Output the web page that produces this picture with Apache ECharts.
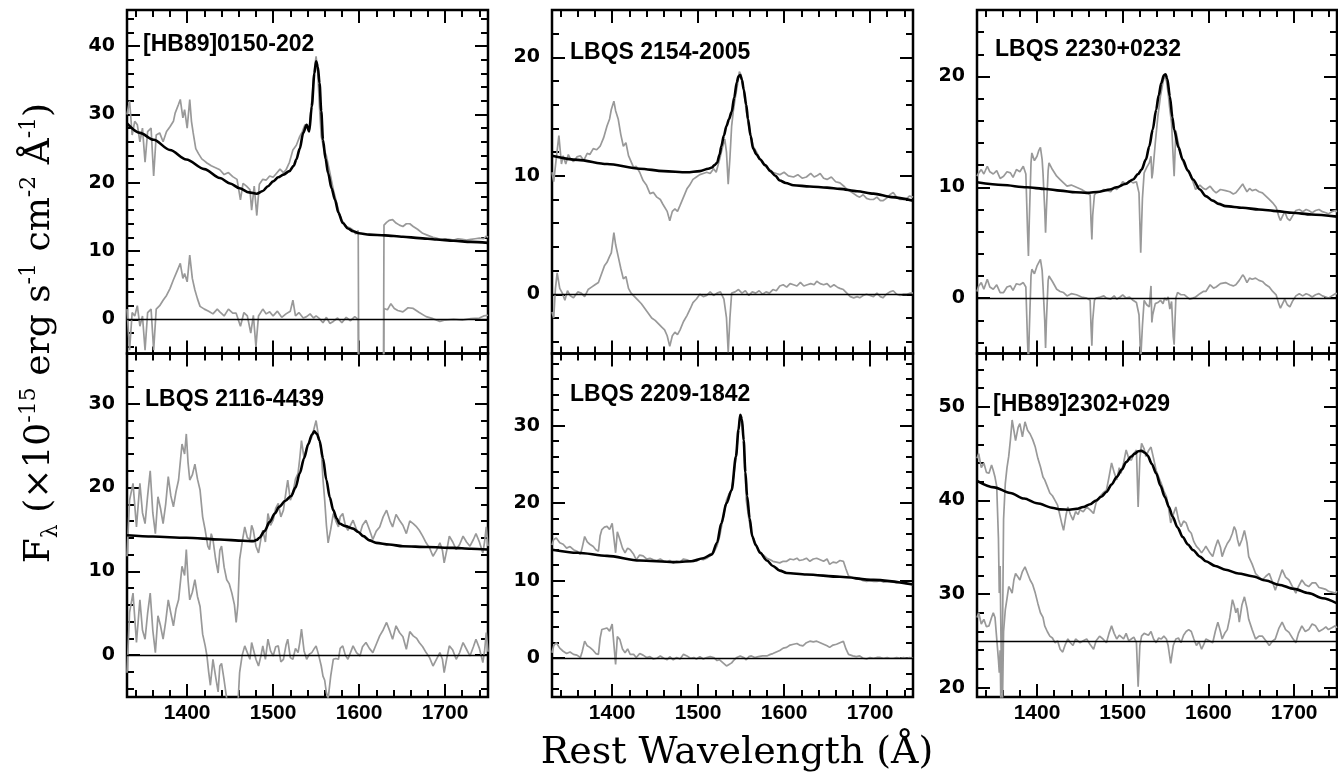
<!DOCTYPE html>
<html><head><meta charset="utf-8">
<script src="https://cdn.jsdelivr.net/npm/echarts@6/dist/echarts.min.js"></script>
<style>html,body{margin:0;padding:0;background:#fff}#c{width:1338px;height:780px}</style>
</head><body><div id="c"></div>
<script>
// ---------- data ----------
const names = ['[HB89]0150-202','LBQS 2154-2005','LBQS 2230+0232','LBQS 2116-4439','LBQS 2209-1842','[HB89]2302+029'];
const xTitle = 'Rest Wavelength (Å)';
const xMajor = [1400,1500,1600,1700];
const xMinor = [1340,1360,1380,1400,1420,1440,1460,1480,1500,1520,1540,1560,1580,1600,1620,1640,1660,1680,1700,1720,1740];
const yMajor1 = [0,10,20,30,40];
const yMajor2 = [0,10,20];
const yMajor3 = [0,10,20];
const yMajor4 = [0,10,20,30];
const yMajor5 = [0,10,20,30];
const yMajor6 = [20,30,40,50];

const spec1 = [[1330,30],[1333,32],[1336,27],[1339,29],[1342,28.5],[1345,26],[1348,28],[1351,23],[1354,27.5],[1358,28],[1361,21],[1364,27],[1368,27.3],[1372,26],[1376,27.5],[1380,28.2],[1384,29],[1386,30.2],[1390,31.5],[1392,32.2],[1395,29.5],[1397,30.7],[1400,28],[1403,32.2],[1405,29],[1407,27.3],[1410,25],[1413,24.3],[1417,23.5],[1420,23.2],[1423,22.9],[1428,22.5],[1433,22.2],[1438,21.9],[1443,21.2],[1448,21.5],[1453,20.9],[1458,20.5],[1462,17.5],[1465,19.9],[1469,19.5],[1473,19],[1475,16],[1478,19.5],[1481,15.2],[1484,19.8],[1488,20.5],[1492,20.4],[1496,21],[1500,20.8],[1504,21.4],[1508,22],[1512,21.5],[1515,21.9],[1519,23],[1523,24.8],[1527,25.5],[1531,26.8],[1534,27.5],[1537,28.5],[1540,28.2],[1542,27.8],[1545,32],[1548,36.5],[1550,38.5],[1552,36],[1554,31],[1556,26.8],[1559,25],[1562,23.9],[1566,21.5],[1570,19],[1574,17],[1577,15.5],[1580,14.5],[1585,13.6],[1589,13.4],[1593,13.1],[1596,12.5],[1599,13],[1600,-20],[1628,-20],[1629,13.8],[1632,14.2],[1635,14.5],[1639,14.6],[1643,14.1],[1647,13.8],[1651,13.6],[1655,14],[1659,14],[1663,13.6],[1668,13.2],[1674,12.6],[1680,12.3],[1686,12],[1690,11.9],[1695,11.7],[1700,11.8],[1705,11.7],[1710,11.6],[1715,11.8],[1720,11.7],[1725,11.6],[1730,11.7],[1735,11.8],[1740,11.9],[1745,11.8],[1748,12.2],[1750,12.0]];
const fit1 = [[1330,28.7],[1345,27.3],[1361,26.3],[1380,24.8],[1399,23.4],[1420,22],[1438,20.7],[1450,19.9],[1461,19.2],[1472,18.6],[1481,18.4],[1488,18.8],[1494,19.5],[1500,20.2],[1506,20.8],[1512,21.2],[1519,21.7],[1524,22.5],[1527,23.4],[1531,25],[1535,27.3],[1539,28.5],[1542,27.5],[1545,31.2],[1548,36],[1550,37.8],[1552,37],[1554,34.6],[1556,30.5],[1558,26.3],[1561,23.5],[1564,21.4],[1568,19.2],[1572,17.5],[1576,15.6],[1581,14.1],[1587,13.3],[1593,12.9],[1600,12.6],[1612,12.4],[1630,12.3],[1651,12.1],[1670,11.9],[1690,11.7],[1710,11.5],[1730,11.35],[1750,11.2]];
const res1 = [[1330,1.5],[1333,-4.5],[1336,1],[1339,0.5],[1342,2],[1345,-1],[1348,0.5],[1351,-4.5],[1354,1],[1358,1.5],[1361,-4.5],[1364,1.5],[1368,2],[1372,2.8],[1376,3.5],[1380,4.5],[1384,5.8],[1388,7],[1392,8.2],[1395,6],[1397,6.7],[1400,5.5],[1403,9.4],[1406,6],[1409,4.3],[1412,3],[1415,1.9],[1420,1.5],[1425,1.2],[1430,0.8],[1435,1.5],[1438,1.1],[1443,0.5],[1448,1.5],[1453,0.9],[1457,0.9],[1462,-1],[1466,1],[1470,0.5],[1474,-2],[1477,0.6],[1480,-4],[1483,0.5],[1488,1.5],[1492,0.8],[1496,1.1],[1500,0.5],[1505,1.2],[1510,0.3],[1515,0.8],[1520,1.2],[1523,2.8],[1526,0.5],[1530,1],[1535,0.2],[1539,0.4],[1543,0.8],[1547,0.2],[1550,0.5],[1554,0.1],[1558,-0.5],[1562,0.3],[1566,-0.6],[1570,-0.3],[1575,0.2],[1580,-0.5],[1585,0.3],[1590,-0.2],[1595,0.4],[1599,0],[1600,-30],[1628,-30],[1629,1.6],[1633,1.4],[1637,2.3],[1641,1.6],[1645,1.3],[1651,1.1],[1657,1.7],[1663,1.6],[1670,1.0],[1678,0.4],[1686,0.1],[1694,-0.3],[1700,-0.1],[1710,0],[1720,-0.1],[1730,0.1],[1740,0.2],[1745,0.5],[1750,0.6]];

const spec2 = [[1330,10.3],[1332,9.5],[1335,11.5],[1338,13.4],[1341,11.0],[1343,11.7],[1346,11.0],[1349,11.8],[1351,11.5],[1355,11.2],[1359,11.6],[1363,11.7],[1367,11.3],[1371,11.9],[1374,11.8],[1378,12.3],[1382,12.2],[1386,12.5],[1390,13.2],[1394,14.2],[1397,14.8],[1399,15.6],[1402,16.3],[1404,15.5],[1407,14.8],[1410,13.5],[1413,12.5],[1416,12.8],[1419,11.7],[1422,11.2],[1425,10.7],[1428,10.8],[1432,10.3],[1436,9.6],[1440,9.2],[1444,8.5],[1448,8.6],[1452,8.2],[1456,8.0],[1459,7.6],[1461,7.5],[1464,7.0],[1467,6.2],[1470,7.0],[1473,7.2],[1476,7.0],[1479,7.5],[1483,8.2],[1487,8.9],[1490,9.2],[1494,9.7],[1498,9.9],[1502,10.1],[1506,10.2],[1510,10.3],[1514,10.2],[1518,10.6],[1521,10.3],[1525,11.4],[1528,12.3],[1531,13.1],[1533,12.0],[1535,9.3],[1537,11.5],[1539,14.2],[1541,15.5],[1543,16.5],[1546,17.8],[1548,18.8],[1550,18.5],[1553,17.3],[1556,15.5],[1558,14.5],[1561,13.5],[1564,12.5],[1568,12.0],[1572,11.4],[1576,11.0],[1580,10.7],[1584,10.5],[1587,10.3],[1591,10.2],[1595,10.1],[1600,10.3],[1605,10.0],[1611,9.9],[1616,10.1],[1621,9.8],[1626,9.9],[1631,10.2],[1635,9.9],[1638,10.0],[1642,10.2],[1646,9.8],[1650,9.7],[1655,9.9],[1660,9.5],[1665,9.4],[1670,9.1],[1674,8.8],[1677,8.7],[1681,8.5],[1685,8.3],[1688,8.2],[1692,8.4],[1696,8.1],[1700,8.0],[1704,8.0],[1708,8.2],[1712,7.9],[1715,7.9],[1719,8.1],[1723,8.4],[1727,8.6],[1731,8.2],[1735,8.0],[1739,8.0],[1743,8.1],[1746,8.3],[1750,8.2]];
const fit2 = [[1330,11.7],[1360,11.35],[1394,11.0],[1432,10.6],[1460,10.4],[1487,10.3],[1502,10.4],[1512,10.6],[1516,10.7],[1519,10.9],[1522,11.1],[1525,11.8],[1527,12.5],[1530,13.4],[1533,14.2],[1536,14.8],[1539,15.4],[1542,16.6],[1545,17.9],[1547,18.4],[1549,18.5],[1551,18.1],[1553,17.3],[1556,16.0],[1558,14.8],[1561,13.4],[1564,12.3],[1568,11.8],[1572,11.4],[1578,10.9],[1584,10.4],[1590,10.0],[1595,9.6],[1602,9.4],[1611,9.2],[1630,9.1],[1650,9.0],[1665,8.9],[1685,8.7],[1704,8.5],[1725,8.2],[1750,7.9]];
const res2 = [[1330,-1.5],[1332,-2.0],[1334,0.5],[1336,1.8],[1339,0.5],[1342,0.1],[1345,-0.5],[1348,0.3],[1351,-0.1],[1355,-0.3],[1360,0.2],[1364,0.1],[1368,-0.2],[1372,0.4],[1376,0.6],[1380,0.8],[1384,1.0],[1388,1.8],[1391,2.4],[1394,2.7],[1397,3.2],[1399,3.5],[1402,5.2],[1404,4.2],[1407,3.2],[1410,2.2],[1413,1.3],[1416,1.5],[1419,0.5],[1422,0.1],[1426,-0.2],[1430,-0.5],[1434,-0.8],[1438,-1.2],[1442,-1.6],[1446,-2.0],[1450,-2.2],[1454,-2.5],[1458,-2.8],[1461,-3.0],[1464,-3.5],[1467,-4.4],[1470,-3.5],[1473,-3.2],[1476,-3.4],[1479,-3.0],[1483,-2.3],[1487,-1.8],[1491,-1.2],[1494,-0.7],[1498,-0.4],[1502,0],[1506,-0.2],[1510,-0.1],[1514,0.2],[1518,-0.1],[1522,0.1],[1526,0.2],[1530,-0.4],[1533,-2.0],[1535,-4.9],[1537,-2.0],[1539,0.1],[1543,0.2],[1547,0.4],[1551,0.1],[1555,0.3],[1559,-0.1],[1563,0.2],[1567,0.1],[1571,0.3],[1575,0.0],[1579,0.2],[1583,0.1],[1587,0.4],[1591,0.3],[1595,0.7],[1599,0.8],[1603,0.6],[1607,0.9],[1611,0.8],[1615,0.7],[1619,1.0],[1623,0.7],[1627,0.8],[1631,0.9],[1635,0.8],[1638,1.1],[1642,0.9],[1646,0.8],[1650,0.9],[1654,0.6],[1658,0.8],[1662,0.6],[1665,0.5],[1669,0.4],[1673,0.1],[1677,-0.2],[1681,-0.3],[1685,-0.2],[1688,-0.3],[1692,-0.1],[1696,0],[1700,-0.1],[1704,-0.2],[1708,0.1],[1712,-0.2],[1715,-0.3],[1719,0],[1723,0.2],[1727,0.3],[1731,0],[1735,-0.1],[1739,0],[1743,0],[1747,0.1],[1750,0.1]];

const spec3 = [[1330,11.0],[1332,11.3],[1335,11.6],[1338,11.2],[1342,11.9],[1345,11.4],[1349,11.2],[1353,11.5],[1357,10.8],[1361,11.0],[1365,11.4],[1369,11.3],[1372,10.9],[1376,11.6],[1380,11.4],[1384,11.9],[1387,11.2],[1389,6],[1390,3.8],[1391,7],[1393,12.2],[1394,13.1],[1397,12.4],[1400,12.8],[1402,13.3],[1404,13.6],[1406,12.5],[1407,11.3],[1409,8],[1410,5.9],[1411,8],[1413,11.5],[1414,12.2],[1418,11.6],[1423,11.0],[1427,10.7],[1431,10.4],[1435,10.1],[1440,10.2],[1446,10.0],[1452,9.8],[1458,9.5],[1462,9.3],[1463,7],[1464,5.3],[1465,7.5],[1467,9.3],[1469,9.5],[1474,9.6],[1478,9.8],[1481,9.7],[1486,9.6],[1490,10.0],[1493,9.8],[1497,10.1],[1500,10.5],[1504,10.3],[1508,10.6],[1512,10.4],[1516,10.5],[1519,9.5],[1521,4.1],[1523,9],[1525,11.3],[1528,11.8],[1531,12.2],[1533,12.8],[1534,10.8],[1535,11.3],[1538,14.0],[1541,16.4],[1544,18.2],[1547,19.5],[1549,20.1],[1551,19.6],[1553,18.5],[1555,17.0],[1557,15.8],[1559,12.5],[1560,11.0],[1562,15.1],[1564,14.3],[1568,12.8],[1572,12.0],[1578,11.3],[1582,10.5],[1585,9.8],[1590,10.2],[1594,9.9],[1597,9.8],[1602,10.1],[1606,9.7],[1609,9.5],[1614,9.8],[1620,9.7],[1625,9.6],[1629,9.4],[1632,9.5],[1636,9.9],[1640,10.3],[1642,10.0],[1645,9.6],[1648,9.9],[1651,9.7],[1655,9.8],[1659,9.6],[1663,9.5],[1667,9.2],[1671,8.9],[1675,8.6],[1679,8.2],[1682,7.4],[1684,7.0],[1686,7.1],[1689,7.8],[1692,7.2],[1695,7.0],[1698,7.4],[1702,7.9],[1706,8.0],[1710,7.8],[1714,8.0],[1717,7.9],[1721,7.7],[1725,7.9],[1729,8.0],[1733,7.8],[1737,7.7],[1740,7.6],[1744,7.8],[1748,7.9],[1750,7.8]];
const fit3 = [[1330,10.45],[1360,10.2],[1388,10.0],[1410,9.85],[1427,9.7],[1445,9.55],[1458,9.5],[1473,9.6],[1485,9.8],[1493,10.0],[1503,10.3],[1512,10.7],[1518,11.2],[1522,11.6],[1527,12.5],[1531,13.7],[1535,15.2],[1539,17.0],[1542,18.3],[1545,19.4],[1548,20.1],[1550,20.2],[1552,19.8],[1555,18.2],[1558,16.3],[1560,15.2],[1565,13.6],[1570,12.5],[1576,11.5],[1582,10.7],[1590,9.8],[1597,9.2],[1605,8.8],[1612,8.5],[1620,8.3],[1640,8.15],[1659,8.0],[1680,7.85],[1698,7.7],[1720,7.55],[1750,7.35]];
const res3 = [[1330,0.6],[1332,1.1],[1335,1.4],[1338,0.8],[1342,1.7],[1345,1.0],[1349,0.8],[1353,1.2],[1357,0.5],[1361,0.5],[1365,1.0],[1369,1.1],[1372,0.7],[1376,1.3],[1380,1.2],[1384,1.4],[1387,1.0],[1389,-4],[1390,-6],[1391,-3],[1393,2.0],[1394,2.6],[1397,2.2],[1400,2.9],[1402,3.2],[1404,3.5],[1406,2.5],[1407,1.1],[1409,-2],[1410,-4.5],[1411,-2],[1413,1.6],[1414,2.0],[1418,1.5],[1423,0.8],[1427,0.6],[1431,0.5],[1435,0.2],[1440,0.4],[1446,0.3],[1452,0.1],[1458,0],[1462,-0.2],[1463,-2.5],[1464,-4.3],[1465,-2],[1467,-0.2],[1469,0],[1474,0.1],[1478,0.2],[1481,0],[1486,-0.1],[1490,0.2],[1493,-0.1],[1497,0.1],[1500,0.3],[1504,0],[1508,0.1],[1512,-0.2],[1516,-0.4],[1519,-1.5],[1521,-5.5],[1523,-2.5],[1525,-0.2],[1528,-0.6],[1531,-0.8],[1533,1.1],[1534,-2.2],[1535,-1.5],[1538,-0.5],[1541,-0.4],[1544,-0.2],[1547,-0.5],[1549,0],[1551,-0.2],[1553,0.1],[1555,-1.0],[1557,-0.3],[1559,-3.5],[1560,-4.2],[1562,0],[1564,0.5],[1568,0.3],[1572,0.3],[1578,-0.1],[1582,0],[1585,0.1],[1590,0.4],[1594,0.6],[1597,0.6],[1602,1.2],[1606,0.9],[1609,1.0],[1614,1.3],[1620,1.4],[1625,1.2],[1629,1.1],[1632,1.2],[1636,1.6],[1640,2.1],[1642,1.9],[1645,1.4],[1648,1.8],[1651,1.7],[1655,1.8],[1659,1.6],[1663,1.5],[1667,1.2],[1671,1.0],[1675,0.6],[1679,0.3],[1682,-0.5],[1684,-0.9],[1686,-0.8],[1689,-0.1],[1692,-0.6],[1695,-0.8],[1698,-0.3],[1702,0.2],[1706,0.4],[1710,0.2],[1714,0.4],[1717,0.3],[1721,0.1],[1725,0.3],[1729,0.4],[1733,0.2],[1737,0.1],[1740,0.0],[1744,0.2],[1748,0.4],[1750,0.4]];

const spec4 = [[1330,11.8],[1333,18.5],[1337,20.5],[1341,15.3],[1345,20.5],[1348,17],[1351,15.7],[1354,19],[1357,22],[1360,17],[1363,14.5],[1366,18.9],[1369,17.5],[1372,15.7],[1375,18],[1378,21.3],[1381,19],[1384,17.7],[1387,19.5],[1390,20.9],[1394,25.2],[1397,24],[1399,26.4],[1401,23],[1403,20.9],[1406,21.5],[1409,22.8],[1412,21],[1415,19.7],[1418,16.5],[1421,14.9],[1424,13],[1426,12.6],[1428,14.5],[1430,13.8],[1433,11.5],[1436,9.8],[1438,12.5],[1440,13],[1443,10.5],[1446,9.0],[1449,8.5],[1452,7.4],[1455,6],[1457,3.9],[1459,6],[1461,11.4],[1464,13.5],[1467,15.3],[1470,14],[1473,13.8],[1475,15.5],[1477,14.9],[1480,13],[1483,12.2],[1486,14],[1488,14.9],[1491,13.5],[1494,16.9],[1497,15.5],[1500,16.1],[1503,17.5],[1506,18.1],[1509,16.5],[1512,17.3],[1515,19.5],[1517,20.9],[1520,18.5],[1523,19.3],[1526,21],[1529,21.7],[1531,23.5],[1533,25.6],[1536,23.5],[1539,24.8],[1542,25.5],[1545,26.0],[1548,27.2],[1550,28.0],[1553,26],[1556,24.4],[1558,21],[1560,18.5],[1562,15.5],[1564,13.4],[1567,15],[1570,16.9],[1573,16],[1576,15.3],[1578,16.5],[1581,16.9],[1584,15.5],[1587,14.9],[1590,15.5],[1593,16.1],[1597,15],[1601,14.5],[1604,15.5],[1608,16.1],[1612,15],[1616,13.8],[1620,14.8],[1624,15.3],[1628,16.5],[1632,17.3],[1636,16],[1639,15.3],[1643,16.8],[1647,16.1],[1651,15.5],[1655,14.5],[1659,16],[1663,15.7],[1667,15.3],[1670,14.9],[1674,14.2],[1678,13.4],[1682,12.8],[1686,11.8],[1690,12.5],[1694,13.4],[1697,12.5],[1699,11.0],[1702,12.5],[1705,14.2],[1709,13.5],[1713,12.6],[1717,13.2],[1721,14.2],[1725,13.5],[1729,13],[1733,13.8],[1736,14.5],[1740,13.5],[1744,12.2],[1746,13.5],[1748,15.3],[1750,13]];
const fit4 = [[1330,14.3],[1360,14.15],[1399,14.0],[1438,13.8],[1465,13.65],[1477,13.6],[1481,13.75],[1484,14.0],[1490,14.8],[1496,15.9],[1502,16.9],[1507,17.7],[1514,18.4],[1521,19.0],[1526,20.0],[1531,21.7],[1536,23.5],[1541,25.2],[1545,26.3],[1548,26.7],[1551,26.4],[1554,25.6],[1558,23.5],[1562,20.9],[1566,18.8],[1570,17.3],[1574,16.3],[1577,15.7],[1584,15.4],[1593,15.1],[1599,14.7],[1605,14.2],[1612,13.7],[1620,13.4],[1635,13.2],[1651,13.0],[1680,12.9],[1709,12.8],[1730,12.7],[1750,12.6]];
const res4 = [[1330,-2.1],[1333,5.1],[1337,7.4],[1341,1.5],[1345,6.6],[1348,3],[1351,1.9],[1354,5],[1357,7.4],[1360,3],[1363,0.3],[1366,4.7],[1369,3.5],[1372,1.9],[1375,4],[1378,6.6],[1381,5],[1384,3.5],[1387,5.5],[1390,6.6],[1394,10.6],[1397,9.5],[1399,12.6],[1401,9],[1403,6.6],[1406,7.5],[1409,9.0],[1412,7],[1415,5.8],[1418,2.5],[1421,1.1],[1423,-0.1],[1425,-2],[1427,-3.6],[1430,-0.5],[1433,-2.5],[1436,-4.4],[1438,-1.3],[1440,-1],[1443,-3],[1446,-5.2],[1449,-5.5],[1452,-6],[1455,-7],[1457,-8],[1459,-6],[1461,-2.1],[1464,0],[1467,1.1],[1470,0.3],[1473,-0.5],[1475,1.5],[1477,0.7],[1480,-0.5],[1483,-1.3],[1486,0],[1488,1.1],[1491,-0.5],[1494,1.9],[1497,0.5],[1500,-0.1],[1503,1],[1506,1.1],[1509,-0.8],[1512,-0.5],[1515,1.2],[1517,1.9],[1520,-0.3],[1523,-0.5],[1526,0.8],[1529,0.3],[1531,1.5],[1533,3.1],[1536,0.5],[1539,-0.5],[1542,0.1],[1545,0.3],[1548,0.8],[1550,1.1],[1553,0],[1556,-1.3],[1558,-2.5],[1560,-3],[1562,-4.5],[1564,-5.2],[1567,-2.5],[1570,-0.5],[1573,-0.4],[1576,-0.5],[1578,0.8],[1581,1.1],[1584,0],[1587,-0.5],[1590,0.3],[1593,1.1],[1597,0.3],[1601,-0.1],[1604,1],[1608,1.5],[1612,0.8],[1616,0.3],[1620,1.3],[1624,2.3],[1628,3],[1632,3.9],[1636,2.8],[1639,1.9],[1643,3.5],[1647,2.7],[1651,2.2],[1655,0.7],[1659,2.8],[1663,2.3],[1667,2],[1670,1.5],[1674,1],[1678,0.3],[1682,-0.3],[1686,-1.3],[1690,-0.5],[1694,0.3],[1697,-0.5],[1699,-2.1],[1702,-0.4],[1705,1.1],[1709,0.6],[1713,-0.5],[1717,0.3],[1721,1.5],[1725,0.7],[1729,-0.1],[1733,1],[1736,1.9],[1740,0.8],[1744,-0.9],[1746,0.5],[1748,2.7],[1750,0.4]];

const spec5 = [[1330,14.6],[1332,15.3],[1335,15.5],[1339,14.9],[1343,14.7],[1347,14.2],[1351,14.4],[1355,14.0],[1359,13.8],[1363,13.4],[1365,14.2],[1368,15.7],[1371,15.0],[1374,14.7],[1378,14.4],[1381,14.0],[1384,13.8],[1386,15.8],[1388,16.6],[1391,16.9],[1394,17.0],[1397,16.6],[1400,17.4],[1402,17.2],[1404,13.6],[1406,16.3],[1409,15.3],[1412,14.2],[1415,13.6],[1418,14.2],[1421,14.0],[1425,13.4],[1428,12.7],[1432,13.3],[1436,13.2],[1440,12.8],[1444,12.9],[1448,12.7],[1452,12.6],[1456,12.8],[1460,12.5],[1464,12.4],[1467,12.6],[1471,12.3],[1475,12.5],[1479,12.4],[1483,12.8],[1487,12.7],[1491,12.5],[1495,12.6],[1498,12.5],[1502,12.8],[1506,12.7],[1510,12.9],[1514,13.2],[1518,13.6],[1522,14.5],[1525,15.7],[1529,18.0],[1533,20.4],[1536,21.2],[1539,21.7],[1542,24.0],[1545,26.9],[1547,29.5],[1549,31.4],[1551,30.5],[1553,28.1],[1555,23.5],[1556,20.4],[1559,18.0],[1562,16.2],[1566,15.0],[1570,14.0],[1575,13.4],[1580,12.9],[1584,12.7],[1587,12.5],[1591,12.4],[1595,12.3],[1599,12.5],[1603,12.5],[1607,12.8],[1611,12.7],[1615,12.9],[1618,12.6],[1622,12.7],[1626,12.9],[1630,12.5],[1634,12.8],[1638,12.9],[1642,12.7],[1646,12.5],[1650,12.8],[1653,12.1],[1657,12.4],[1661,12.3],[1665,12.6],[1669,12.5],[1672,11.5],[1675,10.6],[1680,10.4],[1684,10.2],[1688,10.3],[1692,10.0],[1696,9.9],[1700,10.0],[1704,9.9],[1708,9.9],[1712,10.0],[1716,9.8],[1720,9.9],[1723,9.9],[1727,9.8],[1731,9.7],[1735,9.8],[1739,9.7],[1743,9.6],[1746,9.6],[1750,9.5]];
const fit5 = [[1330,14.0],[1360,13.6],[1394,13.2],[1432,12.6],[1471,12.4],[1492,12.5],[1506,12.9],[1516,13.4],[1522,14.9],[1527,17.4],[1533,20.0],[1539,21.7],[1544,26.0],[1547,29.5],[1549,31.4],[1551,30.8],[1553,28.1],[1555,24.0],[1557,20.9],[1560,18.0],[1563,15.7],[1567,14.6],[1572,13.6],[1580,12.6],[1587,11.9],[1595,11.3],[1603,11.0],[1626,10.8],[1665,10.5],[1704,10.1],[1750,9.5]];
const res5 = [[1330,0.7],[1332,1.6],[1335,2.0],[1339,1.3],[1343,0.9],[1347,0.6],[1351,0.8],[1355,0.5],[1359,0.4],[1363,0.1],[1365,0.8],[1368,2.2],[1371,1.6],[1374,1.4],[1378,1.0],[1381,0.6],[1384,0.5],[1386,2.6],[1388,3.7],[1391,3.8],[1394,3.9],[1397,3.5],[1400,4.4],[1402,4.2],[1404,-0.8],[1406,2.8],[1409,2.4],[1412,1.2],[1415,0.7],[1418,1.2],[1421,0.5],[1425,0.5],[1428,0.1],[1432,0.6],[1436,0.4],[1440,0.1],[1444,0.2],[1448,-0.1],[1452,0],[1456,0.3],[1460,0],[1464,-0.2],[1467,0.2],[1471,-0.2],[1475,0.1],[1479,-0.1],[1483,0.5],[1487,0.3],[1491,0],[1495,0.1],[1498,-0.1],[1502,0.2],[1506,-0.1],[1510,0.1],[1514,0.2],[1518,0.1],[1522,-0.3],[1525,-0.2],[1529,-0.6],[1533,-1.0],[1536,-0.8],[1539,-0.6],[1542,-0.2],[1545,0.1],[1549,0.3],[1553,0.1],[1556,-0.2],[1559,0.2],[1562,0.3],[1566,0.1],[1570,0.2],[1575,0.3],[1580,0.3],[1584,0.5],[1587,0.6],[1591,0.8],[1595,1.0],[1599,1.3],[1603,1.4],[1607,1.7],[1611,1.8],[1615,1.9],[1618,1.7],[1622,1.6],[1626,2.0],[1630,2.2],[1634,2.1],[1638,2.2],[1642,2.0],[1646,1.8],[1650,1.6],[1653,1.4],[1657,1.7],[1661,1.8],[1665,2.0],[1669,2.2],[1672,1.2],[1675,0.5],[1680,0.3],[1684,0.2],[1688,0.3],[1692,0.0],[1696,-0.1],[1700,0.1],[1704,0],[1708,0.1],[1712,0.1],[1716,0],[1720,0.1],[1723,0],[1727,0],[1731,0.1],[1735,0],[1739,0.1],[1743,0],[1746,0.1],[1750,0]];

const spec6 = [[1330,44.5],[1332,45.0],[1335,43.5],[1338,44.0],[1341,43.0],[1344,42.9],[1347,43.8],[1349,43.2],[1351,42.5],[1353,41.5],[1355,36],[1356,30.1],[1357,33],[1358,25],[1359,19.4],[1360,28],[1361,38],[1363,41.8],[1365,43.5],[1367,44.7],[1369,46.5],[1371,48.6],[1373,47.5],[1375,46.4],[1378,47.8],[1380,48.2],[1383,46.8],[1386,48.4],[1389,47.5],[1392,47.1],[1395,46.5],[1398,45.7],[1401,44.5],[1404,43.6],[1407,42.5],[1409,42.2],[1412,41.5],[1415,40.8],[1418,40.5],[1421,40.0],[1424,39.5],[1427,38.3],[1429,37.5],[1431,36.8],[1434,38.5],[1436,39.3],[1439,38.5],[1442,37.9],[1445,38.8],[1448,38.5],[1450,39.0],[1454,38.8],[1458,39.3],[1462,39.0],[1466,38.6],[1469,39.8],[1473,40.4],[1477,40.8],[1481,41.1],[1484,42.5],[1487,44.0],[1490,43.0],[1493,42.2],[1496,43.5],[1498,42.9],[1501,44.0],[1504,45.4],[1507,44.5],[1510,44.3],[1513,45.0],[1516,45.4],[1518,39.3],[1520,44.5],[1522,46.1],[1525,45.5],[1527,44.7],[1530,45.3],[1533,45.7],[1536,44.5],[1539,43.2],[1542,42.5],[1545,41.8],[1548,41.0],[1551,40.4],[1553,39.5],[1556,37.6],[1559,38.5],[1562,39.3],[1565,38.0],[1568,37.2],[1571,37.8],[1574,37.6],[1577,36.8],[1580,36.5],[1583,35.6],[1586,35.1],[1589,34.8],[1592,34.4],[1595,34.8],[1597,35.1],[1601,34.5],[1605,34.0],[1608,35.0],[1611,35.8],[1614,35.0],[1616,34.0],[1619,34.8],[1622,35.4],[1625,35.8],[1628,36.5],[1630,37.2],[1632,36.8],[1634,35.8],[1636,35.1],[1639,35.8],[1642,36.8],[1645,35.5],[1647,34.0],[1651,33.2],[1655,32.2],[1659,31.8],[1663,31.5],[1667,31.9],[1671,32.2],[1675,31.2],[1678,30.4],[1682,31.5],[1686,32.6],[1690,31.8],[1694,31.5],[1698,30.8],[1702,30.1],[1705,30.8],[1709,31.5],[1713,31.0],[1717,30.8],[1721,31.2],[1725,31.2],[1729,30.7],[1733,30.6],[1737,30.5],[1740,30.3],[1744,30.2],[1748,30.1],[1750,30.3]];
const fit6 = [[1330,42.1],[1350,41.4],[1369,40.8],[1385,40.2],[1400,39.7],[1419,39.2],[1427,39.05],[1438,39.0],[1446,39.1],[1454,39.3],[1462,39.6],[1469,40.0],[1475,40.4],[1481,40.9],[1487,41.7],[1493,42.5],[1499,43.3],[1504,44.1],[1510,44.7],[1514,45.0],[1518,45.25],[1522,45.3],[1526,45.1],[1529,44.8],[1534,43.9],[1539,42.9],[1544,41.6],[1549,40.4],[1554,39.3],[1558,38.3],[1564,37.1],[1570,36.1],[1576,35.3],[1582,34.7],[1590,34.0],[1597,33.5],[1608,33.0],[1620,32.6],[1635,32.2],[1651,31.9],[1667,31.45],[1682,31.0],[1700,30.55],[1717,30.1],[1733,29.55],[1750,29.0]];
const res6 = [[1330,27.5],[1332,28.0],[1335,26.8],[1338,27.3],[1341,26.5],[1344,26.6],[1347,27.5],[1349,28.0],[1351,27.5],[1353,27.3],[1355,23],[1356,21.6],[1357,24],[1358,17],[1359,15],[1360,20],[1361,26],[1363,28.3],[1365,29.5],[1367,30.8],[1369,30.5],[1371,30.1],[1373,31.5],[1375,32.2],[1378,31.8],[1380,31.5],[1383,32.4],[1386,32.9],[1389,32.2],[1392,31.5],[1395,31.0],[1398,30.1],[1401,29.0],[1404,28.0],[1407,27.5],[1409,26.6],[1412,26.0],[1415,25.5],[1418,25.3],[1421,24.8],[1424,25.0],[1427,24.1],[1430,23.8],[1433,24.6],[1436,25.2],[1439,24.8],[1442,24.5],[1445,25.2],[1450,24.8],[1454,25.0],[1458,25.2],[1462,24.6],[1466,24.1],[1469,25.0],[1473,25.5],[1477,25.2],[1481,24.8],[1484,25.8],[1487,26.6],[1490,25.8],[1493,25.2],[1496,25.6],[1498,25.5],[1501,25.2],[1504,25.8],[1507,25.0],[1510,25.2],[1513,25.4],[1516,24.8],[1518,20.1],[1520,24.5],[1522,25.5],[1525,25.8],[1527,25.9],[1530,25.6],[1533,26.0],[1536,25.2],[1539,24.8],[1542,25.3],[1545,25.2],[1548,25.5],[1551,25.2],[1553,24.5],[1556,22.6],[1559,24.5],[1562,25.2],[1565,25.3],[1568,24.8],[1571,25.6],[1574,26.0],[1577,26.2],[1580,26.0],[1583,25.2],[1586,24.5],[1589,24.9],[1592,24.1],[1595,24.7],[1597,25.2],[1601,25.0],[1605,24.8],[1608,26.0],[1611,27.0],[1614,26.0],[1616,25.2],[1619,25.8],[1622,26.2],[1625,27.5],[1628,29.4],[1630,28.8],[1632,28.0],[1634,28.5],[1636,27.0],[1639,28.8],[1642,29.7],[1645,28.5],[1647,27.3],[1651,26.2],[1655,25.2],[1659,25.5],[1663,25.5],[1667,25.0],[1671,24.5],[1675,25.0],[1678,25.2],[1682,26.3],[1686,27.0],[1690,26.2],[1694,25.9],[1698,25.3],[1702,24.8],[1705,25.8],[1709,26.6],[1713,26.0],[1717,26.2],[1721,26.8],[1725,26.6],[1729,26.0],[1733,26.2],[1737,26.5],[1740,26.2],[1744,26.4],[1748,26.6],[1750,26.4]];

const residualBase = [0,0,0,0,0,25];
const yRange = [[-5,45.3],[-5,24],[-5,26],[-5,36],[-5,39.3],[19,55.7]];
const xRange = [1330,1750];

// ---------- layout / styles ----------
const panels = [
  {spec:spec1, fit:fit1, res:res1, yMajor:yMajor1},
  {spec:spec2, fit:fit2, res:res2, yMajor:yMajor2},
  {spec:spec3, fit:fit3, res:res3, yMajor:yMajor3},
  {spec:spec4, fit:fit4, res:res4, yMajor:yMajor4},
  {spec:spec5, fit:fit5, res:res5, yMajor:yMajor5},
  {spec:spec6, fit:fit6, res:res6, yMajor:yMajor6}
];
const colLeft = [127, 552, 977], colW = [361, 361, 360];
const rowTop = [10, 353.5], rowH = 343.5;
const labelPos = [[143,45],[570,53],[995,50],[145,400],[570,395],[993,405]];
const GRAY = '#999999';

function evenTicks(a, b, step) { const out = []; for (let v = a; v <= b + 1e-9; v += step) out.push(+v.toFixed(6)); return out; }

const grid = [], xAxis = [], yAxis = [], series = [], graphic = [];
panels.forEach((p, i) => {
  const col = i % 3, row = Math.floor(i / 3);
  grid.push({left: colLeft[col], top: rowTop[row], width: colW[col], height: rowH, show: true,
    borderColor: '#000', borderWidth: 2.5, backgroundColor: 'rgba(0,0,0,0)'});
  const [ymin, ymax] = yRange[i];
  const yMinor = evenTicks(Math.ceil(ymin / 2) * 2, ymax, 2);
  const xi = xAxis.length, yi = yAxis.length;
  const tickLS = {color: '#000', width: 2};
  const baseX = {type: 'value', gridIndex: i, min: xRange[0], max: xRange[1],
    axisLine: {show: false, onZero: false}, splitLine: {show: false}};
  const baseY = {type: 'value', gridIndex: i, min: ymin, max: ymax,
    axisLine: {show: false, onZero: false}, splitLine: {show: false}};
  ['bottom', 'top'].forEach(pos => {
    xAxis.push(Object.assign({}, baseX, {position: pos,
      axisTick: {show: true, inside: true, length: 13, lineStyle: tickLS, customValues: xMajor},
      axisLabel: {show: pos === 'bottom' && row === 1, customValues: xMajor, margin: 6,
        formatter: v => String(v), color: '#000', fontFamily: 'Liberation Sans', fontWeight: 'bold', fontSize: 21}}));
    xAxis.push(Object.assign({}, baseX, {position: pos,
      axisTick: {show: true, inside: true, length: 7, lineStyle: tickLS, customValues: xMinor},
      axisLabel: {show: false}}));
  });
  ['left', 'right'].forEach(pos => {
    yAxis.push(Object.assign({}, baseY, {position: pos,
      axisTick: {show: true, inside: true, length: 13, lineStyle: tickLS, customValues: p.yMajor},
      axisLabel: {show: pos === 'left', customValues: p.yMajor, margin: 12,
        formatter: v => String(v), color: '#000', fontFamily: 'DejaVu Sans', fontWeight: 'bold', fontSize: 19}}));
    yAxis.push(Object.assign({}, baseY, {position: pos,
      axisTick: {show: true, inside: true, length: 7, lineStyle: tickLS, customValues: yMinor},
      axisLabel: {show: false}}));
  });
  series.push({type: 'line', xAxisIndex: xi, yAxisIndex: yi, data: p.spec, showSymbol: false,
    lineStyle: {color: GRAY, width: 1.7}, z: 2, silent: true});
  series.push({type: 'line', xAxisIndex: xi, yAxisIndex: yi, data: p.res, showSymbol: false,
    lineStyle: {color: GRAY, width: 1.7}, z: 2, silent: true,
    markLine: {silent: true, symbol: ['none', 'none'], label: {show: false},
      lineStyle: {color: '#000', width: 1.4, type: 'solid'}, data: [{yAxis: residualBase[i]}], z: 3}});
  series.push({type: 'line', xAxisIndex: xi, yAxisIndex: yi, data: p.fit, showSymbol: false,
    smooth: 0.3, smoothMonotone: 'x', lineStyle: {color: '#000', width: 2.6}, z: 4, silent: true});
  graphic.push({type: 'text', x: labelPos[i][0], y: labelPos[i][1], z: 10,
    style: {text: names[i], fill: '#000', fontFamily: 'Liberation Sans', fontWeight: 'bold', fontSize: 23,
      align: 'left', verticalAlign: 'middle'}});
});

graphic.push({type: 'text', x: 737, y: 753, z: 10,
  style: {text: xTitle, fill: '#000', fontFamily: 'DejaVu Serif', fontSize: 38, align: 'center', verticalAlign: 'middle'}});
graphic.push({type: 'text', x: 40, y: 333, rotation: Math.PI / 2, z: 10,
  style: {text: '{n|F}{sub|λ}{n| (×10}{sup|-15}{n| erg s}{sup|-1}{n| cm}{sup|-2}{n| Å}{sup|-1}{n|)}',
    align: 'center', verticalAlign: 'middle', fill: '#000',
    rich: {
      n: {fontFamily: 'DejaVu Serif', fontSize: 36, lineHeight: 44, fill: '#000'},
      sup: {fontFamily: 'DejaVu Serif', fontSize: 22, lineHeight: 22, verticalAlign: 'top', fill: '#000'},
      sub: {fontFamily: 'DejaVu Serif', fontSize: 22, lineHeight: 22, verticalAlign: 'bottom', fill: '#000'}
    }}});

const chart = echarts.init(document.getElementById('c'), null, {renderer: 'canvas'});
chart.setOption({animation: false, backgroundColor: '#fff', grid, xAxis, yAxis, series, graphic});
</script>
</body></html>
